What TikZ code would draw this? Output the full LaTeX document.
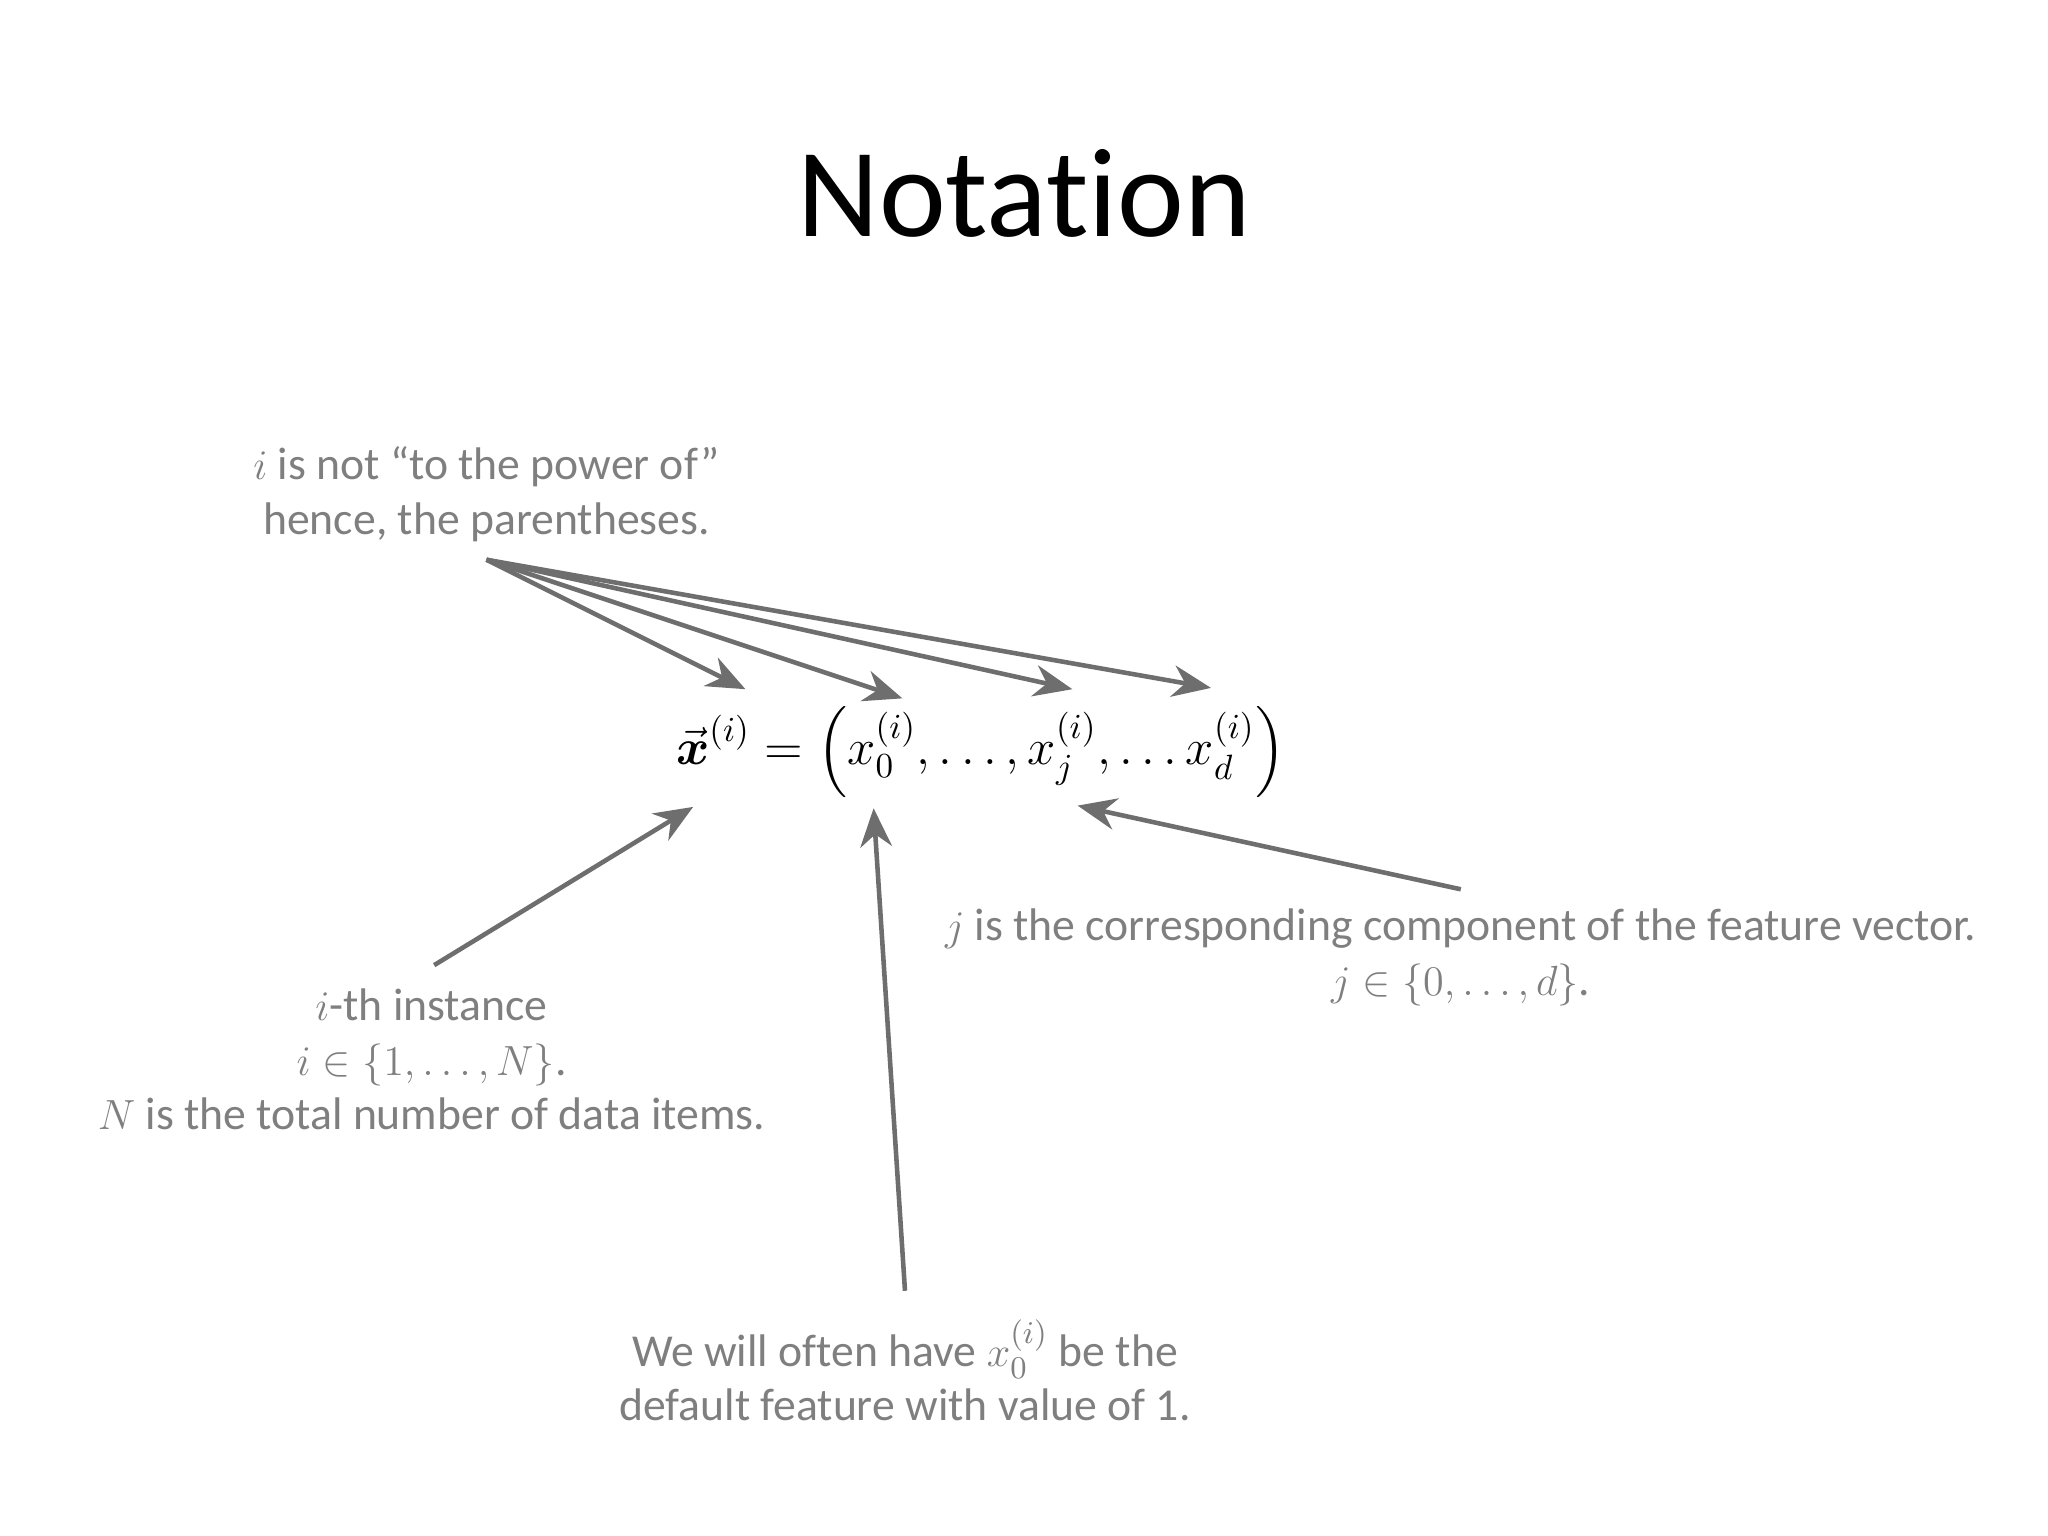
\documentclass[tikz,border=0pt]{standalone}
\usepackage{amsmath}
\usepackage{fontspec}
\setmainfont{Carlito}[Ligatures=NoCommon]
\usetikzlibrary{arrows.meta}
\definecolor{txtgray}{HTML}{7F7F7F}
\definecolor{arrgray}{HTML}{6E6E6E}
\tikzset{
  note/.style={text=txtgray, font=\fontsize{13pt}{15.5pt}\selectfont, align=center, inner sep=0pt},
  arr/.style={draw=arrgray, line width=1.3pt, -{Stealth[length=11pt,width=9pt]}}
}
\begin{document}
\begin{tikzpicture}[x=0.01308cm,y=-0.01308cm]
\useasboundingbox (0,0) rectangle (1566,1174);
\node[font=\fontsize{36pt}{42pt}\selectfont] (title) at (783,148) {Notation};
\node[note] (top) at (372,378) {$i$ is not “to the power of”\\hence, the parentheses.};
\coordinate (src) at (372,428);
\node[font=\fontsize{14pt}{17pt}\selectfont, inner sep=0pt] (eq) at (750,575)
 {$\vec{\boldsymbol{x}}^{(i)}=\left(x_0^{(i)},\ldots,x_j^{(i)},\ldots x_d^{(i)}\right)$};
\coordinate (t1) at (570,527); \coordinate (t2) at (690,534);
\coordinate (t3) at (820,527); \coordinate (t4) at (926,526);
\foreach \t in {t1,t2,t3,t4} \draw[arr] (src) -- (\t);
\node[note] (inst) at (330,810) {$i$-th instance\\$i\in\{1,\ldots,N\}$.\\$N$ is the total number of data items.};
\coordinate (instA) at (332,738); \coordinate (instT) at (530,617);
\draw[arr] (instA) -- (instT);
\node[note] (bot) at (692,1048) {We will often have $x_0^{(i)}$ be the\\default feature with value of 1.};
\coordinate (botA) at (692,987); \coordinate (botT) at (668,618);
\draw[arr] (botA) -- (botT);
\node[note] (jn) at (1117,732) {$j$ is the corresponding component of the feature vector.\\$j\in\{0,\ldots,d\}$.};
\coordinate (jA) at (1117,680); \coordinate (jT) at (824,616);
\draw[arr] (jA) -- (jT);
\end{tikzpicture}
\end{document}
